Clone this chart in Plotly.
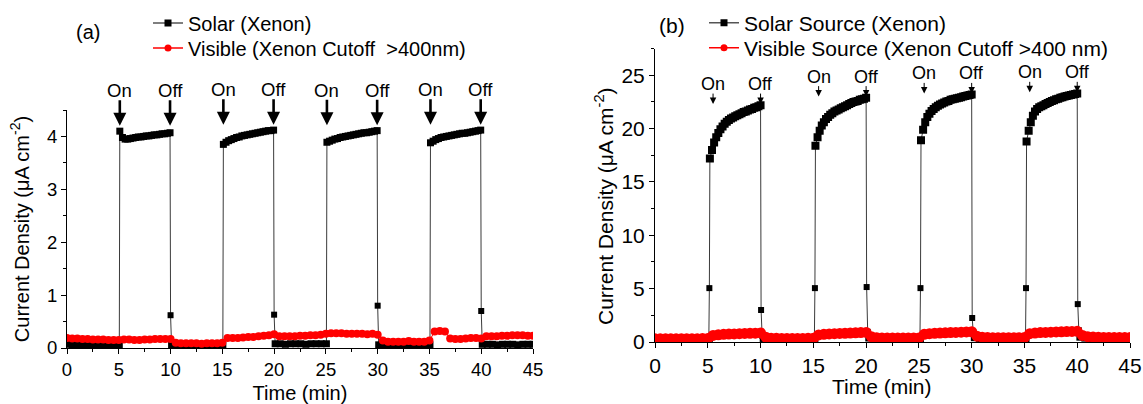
import numpy as np
import plotly.graph_objects as go

# ---------------- Panel (a) data ----------------
on_start_a = [5.1, 15.1, 25.1, 35.1]
off_a = [10.0, 20.0, 30.0, 40.0]
solar_a_on = [
    [4.10, 3.98, 3.95, 3.95, 3.96, 3.97, 3.98, 3.99, 3.99, 4.00, 4.01, 4.01, 4.02, 4.03, 4.03, 4.04, 4.05, 4.05, 4.06, 4.07],
    [3.85, 3.89, 3.92, 3.94, 3.96, 3.98, 3.99, 4.01, 4.02, 4.03, 4.04, 4.05, 4.06, 4.07, 4.08, 4.09, 4.10, 4.11, 4.11, 4.12],
    [3.89, 3.91, 3.93, 3.95, 3.96, 3.98, 3.99, 4.00, 4.01, 4.02, 4.03, 4.04, 4.05, 4.06, 4.07, 4.07, 4.08, 4.09, 4.10, 4.11],
    [3.88, 3.91, 3.94, 3.96, 3.98, 3.99, 4.00, 4.01, 4.02, 4.03, 4.04, 4.05, 4.06, 4.06, 4.07, 4.08, 4.09, 4.10, 4.11, 4.12],
]
solar_a_spike = [0.62, 0.63, 0.80, 0.70]
dark_bounds_a = [(0.0, 5.05), (10.1, 15.05), (20.1, 25.05), (30.1, 35.05), (40.1, 45.0)]
solar_a_dark = [
    [0.07, 0.06, 0.06, 0.05, 0.06, 0.05, 0.05, 0.06, 0.05, 0.05, 0.06],
    [0.05, 0.05, 0.04, 0.05, 0.05, 0.05, 0.04, 0.05, 0.05, 0.05, 0.05],
    [0.08, 0.08, 0.07, 0.08, 0.08, 0.08, 0.07, 0.08, 0.08, 0.08, 0.08],
    [0.06, 0.06, 0.05, 0.06, 0.06, 0.05, 0.06, 0.06, 0.05, 0.06, 0.06],
    [0.07, 0.07, 0.07, 0.06, 0.07, 0.07, 0.07, 0.06, 0.07, 0.07, 0.07],
]
visible_a = [
    0.19, 0.18, 0.18, 0.17, 0.17, 0.16, 0.16, 0.16, 0.15, 0.15, 0.15,
    0.16, 0.16, 0.15, 0.15, 0.16, 0.16, 0.17, 0.17, 0.17, 0.17,
    0.10, 0.09, 0.09, 0.09, 0.09, 0.08, 0.09, 0.09, 0.09, 0.10,
    0.19, 0.19, 0.19, 0.20, 0.21, 0.21, 0.22, 0.23, 0.24, 0.26,
    0.22, 0.22, 0.22, 0.22, 0.23, 0.23, 0.24, 0.24, 0.25, 0.27,
    0.28, 0.28, 0.28, 0.27, 0.27, 0.27, 0.27, 0.26, 0.27, 0.25,
    0.14, 0.12, 0.12, 0.12, 0.12, 0.13, 0.12, 0.12, 0.12, 0.14,
    0.31, 0.32, 0.31, 0.18, 0.17, 0.17, 0.18, 0.19, 0.19, 0.18,
    0.22, 0.22, 0.22, 0.23, 0.23, 0.24, 0.24, 0.24, 0.23, 0.23,
]

# ---------------- Panel (b) data ----------------
on_start_b = [5.2, 15.2, 25.2, 35.2]
off_b = [10.0, 20.0, 30.0, 40.0]
solar_b_on = [
    [17.2, 18.0, 18.7, 19.2, 19.6, 19.95, 20.2, 20.45, 20.65, 20.8, 20.95, 21.05, 21.15, 21.25, 21.35, 21.45, 21.55, 21.6, 21.7, 21.8, 21.85, 21.95, 22.0, 22.1, 22.2],
    [18.4, 19.2, 19.8, 20.3, 20.6, 20.9, 21.1, 21.3, 21.45, 21.6, 21.7, 21.8, 21.9, 22.0, 22.1, 22.2, 22.3, 22.4, 22.5, 22.55, 22.6, 22.7, 22.75, 22.8, 22.9],
    [18.9, 19.9, 20.6, 21.1, 21.4, 21.65, 21.85, 22.0, 22.15, 22.25, 22.35, 22.45, 22.55, 22.6, 22.7, 22.75, 22.8, 22.85, 22.9, 22.95, 23.0, 23.05, 23.1, 23.15, 23.2],
    [18.8, 19.8, 20.6, 21.2, 21.6, 21.85, 22.0, 22.1, 22.2, 22.3, 22.4, 22.5, 22.6, 22.65, 22.75, 22.8, 22.9, 22.95, 23.0, 23.05, 23.1, 23.15, 23.2, 23.25, 23.3],
]
solar_b_spike_on = [5.05, 5.05, 5.05, 5.05]
solar_b_spike_off = [3.0, 5.15, 2.25, 3.55]
solar_b_tail = [0.6, 0.95, 0.9, 1.1]
dark_bounds_b = [(0.0, 5.1), (10.3, 15.1), (20.3, 25.1), (30.3, 35.1), (40.3, 45.0)]
solar_b_dark = [
    [0.30, 0.29, 0.29, 0.29, 0.30, 0.29, 0.29, 0.30, 0.29, 0.29, 0.30],
    [0.38, 0.34, 0.33, 0.32, 0.32, 0.32, 0.32, 0.31, 0.31, 0.31, 0.31],
    [0.42, 0.36, 0.35, 0.34, 0.34, 0.34, 0.33, 0.33, 0.33, 0.33, 0.33],
    [0.45, 0.38, 0.36, 0.35, 0.35, 0.35, 0.34, 0.34, 0.34, 0.34, 0.34],
    [0.50, 0.41, 0.38, 0.37, 0.36, 0.36, 0.36, 0.35, 0.35, 0.35, 0.35],
]
visible_b = [
    0.30, 0.30, 0.30, 0.30, 0.30, 0.31, 0.31, 0.31, 0.31, 0.32, 0.32,
    0.62, 0.68, 0.72, 0.74, 0.76, 0.78, 0.80, 0.81, 0.83, 0.85,
    0.45, 0.36, 0.34, 0.33, 0.33, 0.33, 0.33, 0.33, 0.34, 0.34,
    0.66, 0.72, 0.76, 0.78, 0.80, 0.82, 0.84, 0.86, 0.88, 0.90,
    0.50, 0.40, 0.38, 0.37, 0.37, 0.37, 0.37, 0.37, 0.38, 0.38,
    0.72, 0.78, 0.82, 0.84, 0.86, 0.88, 0.90, 0.92, 0.94, 0.96,
    0.55, 0.45, 0.42, 0.41, 0.41, 0.41, 0.41, 0.41, 0.41, 0.42,
    0.78, 0.84, 0.88, 0.90, 0.92, 0.94, 0.96, 0.98, 0.99, 1.00,
    0.62, 0.50, 0.46, 0.44, 0.43, 0.43, 0.42, 0.42, 0.42, 0.42,
]

x_ticks = [0, 5, 10, 15, 20, 25, 30, 35, 40, 45]

FONT = "Liberation Sans, Arial, sans-serif"
BAND_A, SPIKE_A = 7, 6
BAND_B, SPIKE_B = 8, 6


def build_a():
    xs, ys, ss = [], [], []
    for i, (b, v) in enumerate(zip(dark_bounds_a, solar_a_dark)):
        xs += list(np.linspace(b[0], b[1], len(v)))
        ys += v
        ss += [BAND_A] * len(v)
        if i < len(on_start_a):
            on = solar_a_on[i]
            xs += list(np.linspace(on_start_a[i], off_a[i] - 0.05, len(on)))
            ys += on
            ss += [BAND_A] * len(on)
            xs.append(off_a[i])
            ys.append(solar_a_spike[i])
            ss.append(SPIKE_A)
    return xs, ys, ss


def build_b():
    xs, ys, ss = [], [], []
    for i, (b, v) in enumerate(zip(dark_bounds_b, solar_b_dark)):
        xs += list(np.linspace(b[0], b[1], len(v)))
        ys += v
        ss += [BAND_B] * len(v)
        if i < len(on_start_b):
            xs.append(on_start_b[i] - 0.05)
            ys.append(solar_b_spike_on[i])
            ss.append(SPIKE_B)
            on = solar_b_on[i]
            xs += list(np.linspace(on_start_b[i], off_b[i], len(on)))
            ys += on
            ss += [BAND_B] * len(on)
            xs.append(off_b[i] + 0.05)
            ys.append(solar_b_spike_off[i])
            ss.append(SPIKE_B)
            xs.append(off_b[i] + 0.15)
            ys.append(solar_b_tail[i])
            ss.append(SPIKE_B)
    return xs, ys, ss


xa, ya, sa = build_a()
xb, yb, sb = build_b()

fig = go.Figure()

# panel (a) data
fig.add_trace(go.Scatter(x=xa, y=ya, mode="lines+markers", xaxis="x", yaxis="y",
                         line=dict(color="#3a3a3a", width=1),
                         marker=dict(symbol="square", size=sa, color="black", opacity=1,
                                     line=dict(width=0)),
                         showlegend=False, hoverinfo="skip"))
fig.add_trace(go.Scatter(x=np.linspace(0, 45, len(visible_a)), y=visible_a, mode="lines+markers",
                         xaxis="x", yaxis="y",
                         line=dict(color="red", width=1),
                         marker=dict(symbol="circle", size=8, color="red", opacity=1),
                         showlegend=False, hoverinfo="skip"))
# panel (b) data
fig.add_trace(go.Scatter(x=xb, y=yb, mode="lines+markers", xaxis="x2", yaxis="y2",
                         line=dict(color="#3a3a3a", width=1),
                         marker=dict(symbol="square", size=sb, color="black", opacity=1,
                                     line=dict(width=0)),
                         showlegend=False, hoverinfo="skip"))
fig.add_trace(go.Scatter(x=np.linspace(0, 45, len(visible_b)), y=visible_b, mode="lines+markers",
                         xaxis="x2", yaxis="y2",
                         line=dict(color="red", width=1),
                         marker=dict(symbol="circle", size=11, color="red", opacity=1),
                         showlegend=False, hoverinfo="skip"))

# legend entries (one legend per row for exact placement)
legend_items = [
    ("Solar (Xenon)", "square", "black", "#555555", "legend", "x", "y"),
    ("Visible (Xenon Cutoff\u00a0 >400nm)", "circle", "red", "red", "legend2", "x", "y"),
    ("Solar Source (Xenon)", "square", "black", "#555555", "legend3", "x2", "y2"),
    ("Visible Source (Xenon Cutoff >400 nm)", "circle", "red", "red", "legend4", "x2", "y2"),
]
for name, sym, mcol, lcol, leg, xr, yr in legend_items:
    fig.add_trace(go.Scatter(x=[None], y=[None], mode="lines+markers", name=name,
                             xaxis=xr, yaxis=yr,
                             line=dict(color=lcol, width=1.5),
                             marker=dict(symbol=sym, size=7, color=mcol), legend=leg))

W, H = 1143, 404


def px_x(p):
    return p / W


def px_y(p):
    return 1 - p / H


axis_common = dict(showline=True, linecolor="black", linewidth=1, ticks="outside",
                   ticklen=5, tickwidth=1, tickcolor="black", showgrid=False,
                   zeroline=False, mirror=False, automargin=False)


def leg(xp, yp, size):
    return dict(x=px_x(xp), y=px_y(yp), xanchor="left", yanchor="middle",
                font=dict(size=size, family=FONT), bgcolor="rgba(0,0,0,0)")


fig.update_layout(
    width=W, height=H, margin=dict(l=0, r=0, t=0, b=0),
    paper_bgcolor="white", plot_bgcolor="white",
    font=dict(family=FONT, color="black"),
    xaxis=dict(domain=[px_x(67), px_x(533)], anchor="y", range=[0, 45],
               tickvals=x_ticks, tickfont=dict(size=18.5),
               minor=dict(dtick=2.5, tick0=0, ticks="outside", ticklen=3, tickcolor="black"),
               title=dict(text="Time (min)", font=dict(size=20), standoff=8),
               **axis_common),
    yaxis=dict(domain=[px_y(348), px_y(110)], anchor="x", range=[0, 4.5],
               dtick=1, tick0=0, tickfont=dict(size=18.5),
               minor=dict(dtick=0.5, tick0=0, ticks="outside", ticklen=3, tickcolor="black"),
               title=dict(text="Current Density (\u03bcA cm<sup>-2</sup>)", font=dict(size=20), standoff=12),
               **axis_common),
    xaxis2=dict(domain=[px_x(655), px_x(1130)], anchor="y2", range=[0, 45],
                tickvals=x_ticks, tickfont=dict(size=21),
                minor=dict(dtick=2.5, tick0=0, ticks="outside", ticklen=3, tickcolor="black"),
                **axis_common),
    yaxis2=dict(domain=[px_y(342), px_y(48.6)], anchor="x2", range=[0, 27.5],
                dtick=5, tick0=0, tickfont=dict(size=21),
                minor=dict(dtick=2.5, tick0=0, ticks="outside", ticklen=3, tickcolor="black"),
                **axis_common),
    legend=leg(148, 23, 20),
    legend2=leg(148, 48, 20),
    legend3=leg(704, 23, 21),
    legend4=leg(704, 48, 21),
)

annotations = []
# panel labels
annotations.append(dict(x=px_x(88), y=px_y(32), xref="paper", yref="paper", text="(a)",
                        xanchor="center", yanchor="middle", showarrow=False, font=dict(size=20)))
annotations.append(dict(x=px_x(672), y=px_y(25), xref="paper", yref="paper", text="(b)",
                        xanchor="center", yanchor="middle", showarrow=False, font=dict(size=21)))
# panel (b) axis titles
annotations.append(dict(x=px_x(882), y=px_y(386), xref="paper", yref="paper", text="Time (min)",
                        xanchor="center", yanchor="middle", showarrow=False, font=dict(size=21)))
annotations.append(dict(x=px_x(604), y=px_y(206), xref="paper", yref="paper",
                        text="Current Density (\u03bcA cm<sup>-2</sup>)", textangle=-90,
                        xanchor="center", yanchor="middle", showarrow=False, font=dict(size=21)))

# panel (a) On/Off arrows
for i in range(len(on_start_a)):
    tip = max(solar_a_on[i]) + 0.1
    for xv, label in ((on_start_a[i], "On"), (off_a[i] - 0.05, "Off")):
        annotations.append(dict(x=xv, y=tip, xref="x", yref="y", text="", ax=0, ay=-27,
                                showarrow=True, arrowhead=2, arrowsize=1, arrowwidth=2.6,
                                arrowcolor="black"))
        annotations.append(dict(x=xv, y=tip, xref="x", yref="y", text=label,
                                xanchor="center", yanchor="middle",
                                showarrow=False, yshift=35, font=dict(size=18.5)))

# panel (b) On/Off arrows
for i in range(len(on_start_b)):
    tip = max(solar_b_on[i]) + 0.1
    for xv, label in ((on_start_b[i] + 0.3, "On"), (off_b[i], "Off")):
        annotations.append(dict(x=xv, y=tip, xref="x2", yref="y2", text="", ax=0, ay=-12,
                                showarrow=True, arrowhead=2, arrowsize=1.3, arrowwidth=1,
                                arrowcolor="black"))
        annotations.append(dict(x=xv, y=tip, xref="x2", yref="y2", text=label,
                                xanchor="center", yanchor="middle",
                                showarrow=False, yshift=20, font=dict(size=18)))

fig.update_layout(annotations=annotations)

fig.write_html("out.html")
